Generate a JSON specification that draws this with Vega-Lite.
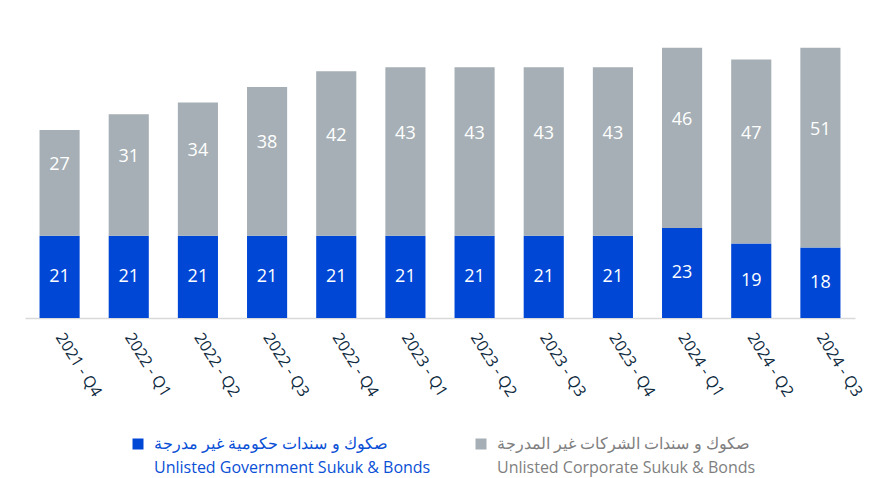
{
  "$schema": "https://vega.github.io/schema/vega-lite/v6.json",
  "width": 830,
  "height": 282,
  "autosize": "none",
  "padding": {"left": 25, "top": 36, "right": 22, "bottom": 160},
  "background": "white",
  "config": {"view": {"stroke": null}, "font": "Lato"},
  "data": {"values": [
    {"quarter": "2021 - Q4", "series": "gov", "value": 21},
    {"quarter": "2021 - Q4", "series": "corp", "value": 27},
    {"quarter": "2022 - Q1", "series": "gov", "value": 21},
    {"quarter": "2022 - Q1", "series": "corp", "value": 31},
    {"quarter": "2022 - Q2", "series": "gov", "value": 21},
    {"quarter": "2022 - Q2", "series": "corp", "value": 34},
    {"quarter": "2022 - Q3", "series": "gov", "value": 21},
    {"quarter": "2022 - Q3", "series": "corp", "value": 38},
    {"quarter": "2022 - Q4", "series": "gov", "value": 21},
    {"quarter": "2022 - Q4", "series": "corp", "value": 42},
    {"quarter": "2023 - Q1", "series": "gov", "value": 21},
    {"quarter": "2023 - Q1", "series": "corp", "value": 43},
    {"quarter": "2023 - Q2", "series": "gov", "value": 21},
    {"quarter": "2023 - Q2", "series": "corp", "value": 43},
    {"quarter": "2023 - Q3", "series": "gov", "value": 21},
    {"quarter": "2023 - Q3", "series": "corp", "value": 43},
    {"quarter": "2023 - Q4", "series": "gov", "value": 21},
    {"quarter": "2023 - Q4", "series": "corp", "value": 43},
    {"quarter": "2024 - Q1", "series": "gov", "value": 23},
    {"quarter": "2024 - Q1", "series": "corp", "value": 46},
    {"quarter": "2024 - Q2", "series": "gov", "value": 19},
    {"quarter": "2024 - Q2", "series": "corp", "value": 47},
    {"quarter": "2024 - Q3", "series": "gov", "value": 18},
    {"quarter": "2024 - Q3", "series": "corp", "value": 51}
  ]},
  "transform": [
    {"calculate": "datum.series === 'gov' ? 0 : 1", "as": "ord"},
    {"stack": "value", "groupby": ["quarter"], "sort": [{"field": "ord", "order": "ascending"}], "as": ["v0", "v1"]},
    {"calculate": "(datum.v0 + datum.v1) / 2", "as": "mid"}
  ],
  "encoding": {
    "x": {
      "field": "quarter", "type": "ordinal", "sort": null, "title": null,
      "scale": {"paddingInner": 0.42, "paddingOuter": 0.21},
      "axis": {
        "labelAngle": 58, "labelFontSize": 16, "labelColor": "#0e2a3e", "labelFont": "Open Sans",
        "ticks": false, "domainColor": "#d9d9d9", "domainWidth": 1.5, "labelPadding": 16,
        "labelAlign": "left", "labelBaseline": "middle"
      }
    }
  },
  "layer": [
    {
      "mark": {"type": "bar"},
      "encoding": {
        "y": {"field": "v0", "type": "quantitative", "scale": {"domain": [0, 72]}, "axis": null},
        "y2": {"field": "v1"},
        "color": {
          "field": "series", "type": "nominal",
          "scale": {"domain": ["gov", "corp"], "range": ["#0047d6", "#a6afb5"]},
          "legend": {
            "orient": "none", "legendX": 105, "legendY": 400, "direction": "horizontal",
            "title": null, "symbolType": "square", "symbolSize": 121, "symbolStrokeWidth": 0,
            "labelFontSize": 16, "labelFont": "Open Sans", "labelLimit": 400, "columnPadding": 42,
            "labelOffset": 8,
            "labelExpr": "datum.value === 'gov' ? ['صكوك و سندات حكومية غير مدرجة', 'Unlisted Government Sukuk & Bonds'] : ['صكوك و سندات الشركات غير المدرجة', 'Unlisted Corporate Sukuk & Bonds']",
            "encode": {"labels": {"update": {
              "fill": {"signal": "datum.value === 'gov' ? '#0a50d6' : '#7f7f7f'"},
              "lineHeight": {"value": 24}
            }}}
          }
        }
      }
    },
    {
      "transform": [{"filter": "datum.series === 'gov'"}],
      "mark": {"type": "text", "color": "white", "fontSize": 18, "font": "Open Sans", "baseline": "middle"},
      "encoding": {
        "y": {"field": "mid", "type": "quantitative", "scale": {"domain": [0, 72]}},
        "text": {"field": "value", "type": "quantitative"}
      }
    },
    {
      "transform": [{"filter": "datum.series === 'corp'"}],
      "mark": {"type": "text", "color": "white", "fontSize": 18, "font": "Open Sans", "baseline": "middle", "dy": -18},
      "encoding": {
        "y": {"field": "mid", "type": "quantitative", "scale": {"domain": [0, 72]}},
        "text": {"field": "value", "type": "quantitative"}
      }
    }
  ]
}
